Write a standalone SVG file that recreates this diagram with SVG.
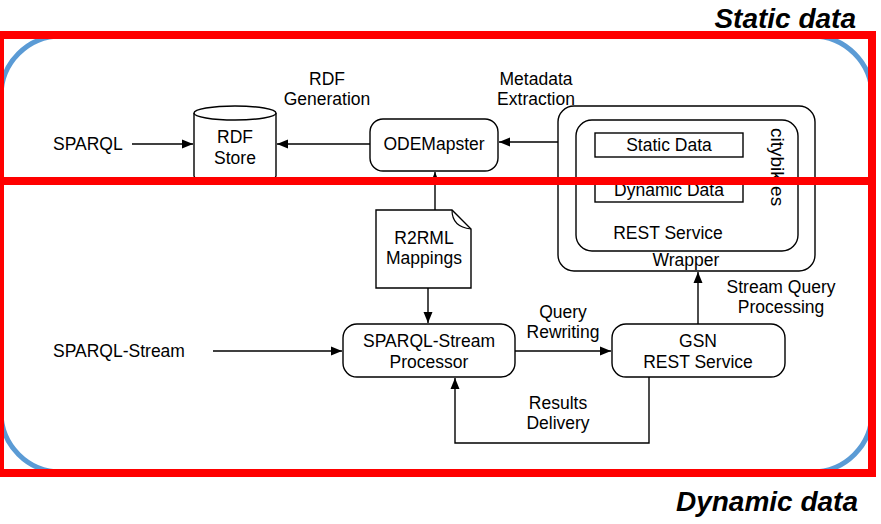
<svg xmlns="http://www.w3.org/2000/svg" width="881" height="524" viewBox="0 0 881 524">
<style>
text{font-family:"Liberation Sans",Arial,sans-serif;font-size:17.5px;fill:#000}
.c{text-anchor:middle}
.t{font-weight:bold;font-style:italic;font-size:28px}
.n{fill:#fff;stroke:#000;stroke-width:1.4}
.e{fill:none;stroke:#000;stroke-width:1.4;marker-end:url(#ah)}
.red{fill:none;stroke:#ff0000;stroke-width:8}
</style>
<defs>
<marker id="ah" markerUnits="userSpaceOnUse" markerWidth="12" markerHeight="10" refX="11" refY="5" orient="auto">
<path d="M0,0.5 L11,5 L0,9.5 z" fill="#000"/>
</marker>
</defs>
<rect x="1" y="36" width="871" height="436" rx="60" fill="none" stroke="#5B9BD5" stroke-width="5"/>
<g id="sparql"><text x="53" y="150">SPARQL</text></g>
<g id="rdfstore">
<path class="n" d="M194,113 V176 A41,7 0 0 0 276,176 V113"/>
<ellipse class="n" cx="235" cy="113" rx="41" ry="7"/>
<text class="c" x="235" y="143">RDF</text>
<text class="c" x="235" y="164">Store</text>
</g>
<g id="lbl-rdfgen"><text class="c" x="327" y="85">RDF</text><text class="c" x="327" y="105">Generation</text></g>
<g id="lbl-meta"><text class="c" x="536" y="85">Metadata</text><text class="c" x="536" y="105">Extraction</text></g>
<g id="odemapster">
<rect class="n" x="370" y="119" width="128" height="52" rx="13"/>
<text class="c" x="434" y="150">ODEMapster</text>
</g>
<g id="wrapper">
<rect class="n" x="558" y="106" width="257" height="165" rx="16"/>
<rect class="n" x="576" y="120" width="222" height="131" rx="16"/>
<rect class="n" x="595" y="133" width="148" height="24"/>
<text class="c" x="669" y="151">Static Data</text>
<rect class="n" x="595" y="178" width="148" height="24"/>
<text class="c" x="669" y="196">Dynamic Data</text>
<text x="0" y="0" transform="translate(771,128) rotate(90)" style="font-size:19px">citybik.es</text>
<text class="c" x="668" y="239">REST Service</text>
<text class="c" x="686" y="266">Wrapper</text>
</g>
<g id="r2rml">
<path class="n" d="M376,210 H452 L471,229 V288 H376 Z"/>
<path fill="none" stroke="#000" stroke-width="1.2" d="M452,210 Q452,227 471,229"/>
<text class="c" x="424" y="244">R2RML</text>
<text class="c" x="424" y="264">Mappings</text>
</g>
<g id="sparqlstream"><text x="53" y="357">SPARQL-Stream</text></g>
<g id="processor">
<rect class="n" x="343" y="324" width="172" height="53" rx="14"/>
<text class="c" x="429" y="347">SPARQL-Stream</text>
<text class="c" x="429" y="368">Processor</text>
</g>
<g id="lbl-query"><text class="c" x="563" y="318">Query</text><text class="c" x="563" y="338">Rewriting</text></g>
<g id="gsn">
<rect class="n" x="612" y="324" width="173" height="53" rx="14"/>
<text class="c" x="698" y="347">GSN</text>
<text class="c" x="698" y="368">REST Service</text>
</g>
<g id="lbl-sqp"><text class="c" x="781" y="293">Stream Query</text><text class="c" x="781" y="313">Processing</text></g>
<g id="lbl-results"><text class="c" x="558" y="409">Results</text><text class="c" x="558" y="429">Delivery</text></g>
<g id="connectors">
<path class="e" d="M132,144 H193"/>
<path class="e" d="M370,144 H277"/>
<path class="e" d="M558,142 H499"/>
<path class="e" d="M435,210 V172"/>
<path class="e" d="M428,288 V323"/>
<path class="e" d="M213,351 H342"/>
<path class="e" d="M515,351 H611"/>
<path class="e" d="M698,324 V272"/>
<path class="e" d="M649,377 V443 H455 V378"/>
</g>
<rect class="red" x="0" y="35" width="872" height="146"/>
<rect class="red" x="0" y="181" width="872" height="292"/>
<text class="t" x="856" y="28" text-anchor="end">Static data</text>
<text class="t" x="858" y="511" text-anchor="end">Dynamic data</text>
</svg>
